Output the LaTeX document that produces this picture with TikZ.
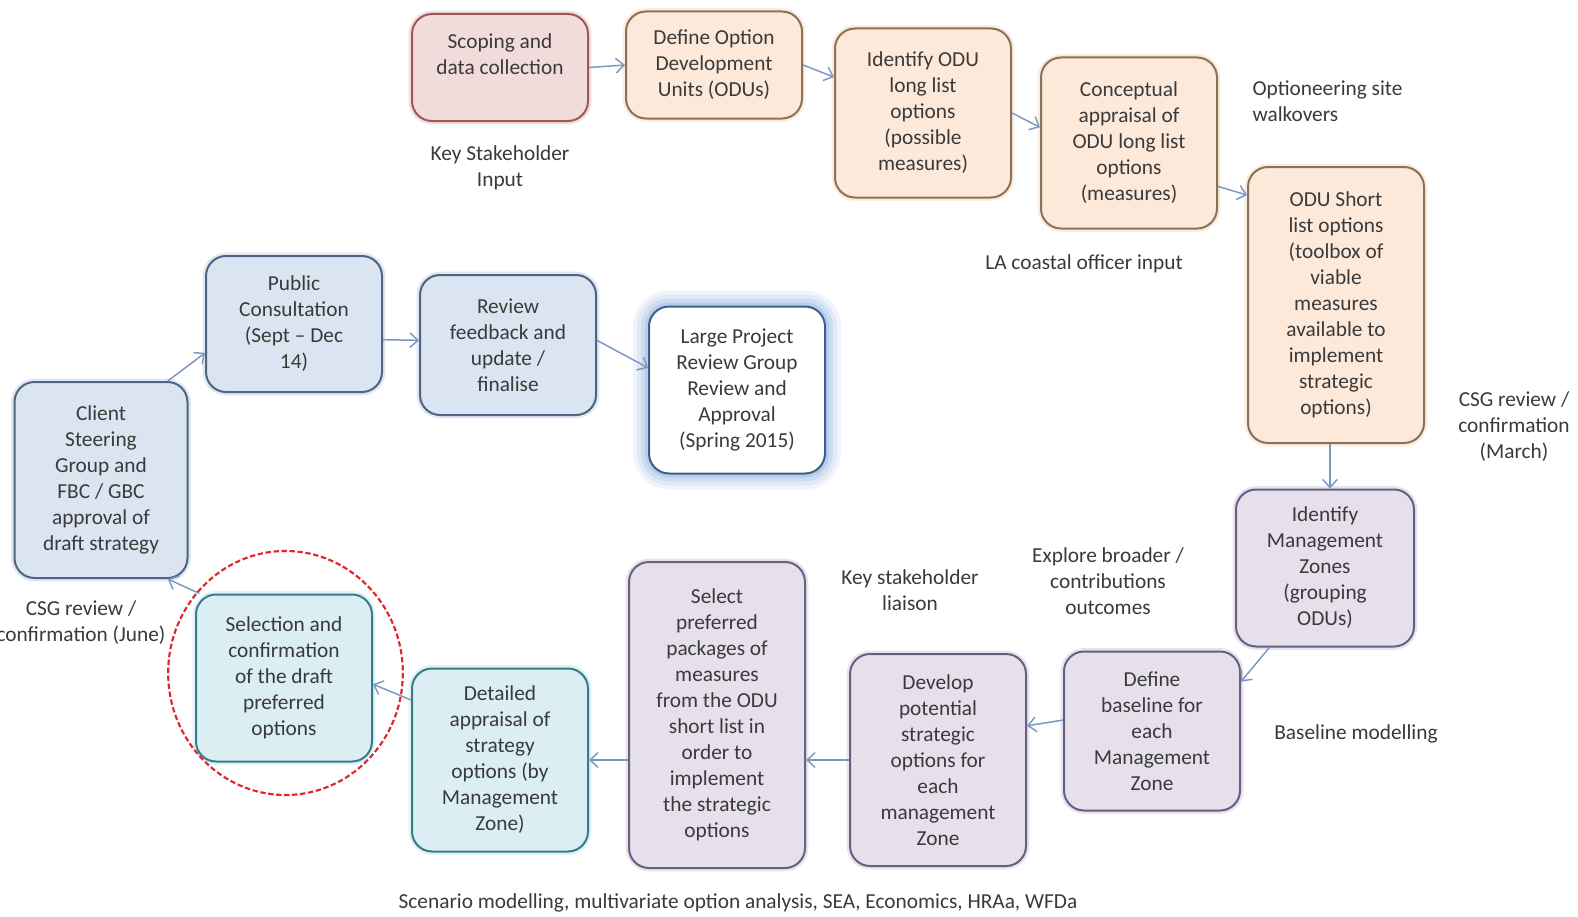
\documentclass[tikz,border=0pt]{standalone}
\usepackage{fontspec}
\setmainfont{Carlito}
\usetikzlibrary{arrows.meta}

\definecolor{pinkfill}{HTML}{F2DCDB}
\definecolor{pinkline}{HTML}{9B5A5A}
\definecolor{pinkglow}{HTML}{E6B9B8}
\definecolor{peachfill}{HTML}{FDE9D9}
\definecolor{peachline}{HTML}{8A7258}
\definecolor{peachglow}{HTML}{FAD7B5}
\definecolor{lilacfill}{HTML}{E5E0EC}
\definecolor{lilacline}{HTML}{67607F}
\definecolor{lilacglow}{HTML}{CCC1DA}
\definecolor{cyanfill}{HTML}{DAEEF3}
\definecolor{cyanline}{HTML}{3D7A87}
\definecolor{cyanglow}{HTML}{B7E4EF}
\definecolor{bluefill}{HTML}{DBE5F1}
\definecolor{blueline}{HTML}{4F6682}
\definecolor{blueglow}{HTML}{B8CCE4}
\definecolor{largeline}{HTML}{3E5F86}
\definecolor{largeglow}{HTML}{8DB3E2}
\definecolor{flowblue}{HTML}{7B98C2}
\definecolor{dashred}{HTML}{E0252B}
\definecolor{textgrey}{HTML}{3A3A3A}

\tikzset{every picture/.style={line width=0.75pt}}
\tikzset{
  stage/.style={rounded corners=15pt, line width=1.5pt, align=center, inner sep=0pt,
    minimum width=132pt, text=textgrey, font=\fontsize{16}{19.5}\selectfont},
  glow/.style={preaction={draw=#1, line width=5pt, opacity=0.45}},
  pinkbox/.style={stage, fill=pinkfill, draw=pinkline, glow=pinkglow},
  peachbox/.style={stage, fill=peachfill, draw=peachline, glow=peachglow},
  lilacbox/.style={stage, fill=lilacfill, draw=lilacline, glow=lilacglow},
  cyanbox/.style={stage, fill=cyanfill, draw=cyanline, glow=cyanglow},
  bluebox/.style={stage, fill=bluefill, draw=blueline, glow=blueglow},
  largebox/.style={stage, fill=white, draw=largeline,
    preaction={draw=largeglow, line width=24pt, opacity=0.12},
    preaction={draw=largeglow, line width=18pt, opacity=0.16},
    preaction={draw=largeglow, line width=12pt, opacity=0.22},
    preaction={draw=largeglow, line width=6pt, opacity=0.35}},
  flow/.style={draw=flowblue, line width=1.1pt, -{Straight Barb[length=6pt,width=11pt]}},
  note/.style={align=center, text=textgrey, inner sep=0pt, font=\fontsize{16}{19.5}\selectfont}
}

\begin{document}
\begin{tikzpicture}[x=0.75pt,y=0.75pt,yscale=-1,xscale=1]
        \path[use as bounding box, fill=white] (0,0) rectangle (1578,917);
        % Boxes, top row
        \node[pinkbox, minimum height=80.25pt] (scoping) at (500,67.5) {Scoping and\\data collection\\~};
        \node[peachbox, minimum height=80.25pt] (define) at (714,65) {Define Option\\Development\\Units (ODUs)};
        \node[peachbox, minimum height=126.75pt] (longlist) at (923,113) {Identify ODU\\long list\\options\\(possible\\measures)};
        \node[peachbox, minimum height=128.25pt] (concept) at (1129,143) {Conceptual\\appraisal of\\ODU long list\\options\\(measures)};
        \node[peachbox, minimum height=207pt] (shortlist) at (1336,305) {ODU Short\\list options\\(toolbox of\\viable\\measures\\available to\\implement\\strategic\\options)};
        % Boxes, bottom row
        \node[lilacbox, minimum height=117.75pt, minimum width=133.5pt] (zones) at (1325,568) {Identify\\Management\\Zones\\(grouping\\ODUs)};
        \node[lilacbox, minimum height=119.25pt] (baseline) at (1152,731) {Define\\baseline for\\each\\Management\\Zone};
        \node[lilacbox, minimum height=159pt] (develop) at (938,760) {Develop\\potential\\strategic\\options for\\each\\management\\Zone};
        \node[lilacbox, minimum height=229.5pt] (select) at (717,715) {Select\\preferred\\packages of\\measures\\from the ODU\\short list in\\order to\\implement\\the strategic\\options};
        \node[cyanbox, minimum height=137.25pt] (detailed) at (500,760) {Detailed\\appraisal of\\strategy\\options (by\\Management\\Zone)};
        \node[cyanbox, minimum height=125.25pt] (selection) at (284,678) {Selection and\\confirmation\\of the draft\\preferred\\options};
        % Boxes, middle row
        \node[bluebox, minimum height=147pt, minimum width=129.75pt] (client) at (101,480) {Client\\Steering\\Group and\\FBC / GBC\\approval of\\draft strategy};
        \node[bluebox, minimum height=102pt] (public) at (294,324) {Public\\Consultation\\(Sept -- Dec\\14)};
        \node[bluebox, minimum height=105pt] (review) at (508,345) {Review\\feedback and\\update /\\finalise};
        \node[largebox, minimum height=125.25pt] (largeproject) at (737,390) {Large Project\\Review Group\\Review and\\Approval\\(Spring 2015)};

        % Text Node
        \node[note] (stakeinput) at (500,168) {Key Stakeholder\\Input};
        % Text Node
        \node[note] (officer) at (1084,264) {LA coastal officer input};
        % Text Node
        \node[note, anchor=west, align=left] (walkover) at (1252,101) {Optioneering site\\walkovers};
        % Text Node
        \node[note] (csgmarch) at (1514,427) {CSG review /\\confirmation\\(March)};
        % Text Node
        \node[note] (csgjune) at (81,623) {CSG review /\\confirmation (June)};
        % Text Node
        \node[note] (liaison) at (910,590) {Key stakeholder\\liaison};
        % Text Node
        \node[note] (explore) at (1108,581) {Explore broader /\\contributions\\outcomes};
        % Text Node
        \node[note] (basemodel) at (1356,734) {Baseline modelling};
        % Text Node
        \node[note] (scenario) at (738,903) {Scenario modelling, multivariate option analysis, SEA, Economics, HRAa, WFDa};

        % Dashed ellipse round the selection box
        \draw[dashred, line width=1.6pt, dash pattern={on 4pt off 2pt}] (285.5,673) ellipse [x radius=88pt, y radius=91.5pt];

        % Connectors
        \draw[flow] (scoping.east) -- (define.west);
        \draw[flow] (define.east) -- (longlist.158);
        \draw[flow] (longlist.east) -- (concept.170);
        \draw[flow] (concept.-26) -- (shortlist.129);
        \draw[flow] ([xshift=-4.5pt]shortlist.south) -- ([xshift=-4.5pt]shortlist.south |- zones.north);
        \draw[flow] (zones.235) -- (baseline.29);
        \draw[flow] (baseline.173) -- (develop.21);
        \draw[flow] (develop.west) -- (develop.west -| select.east);
        \draw[flow] (detailed.east -| select.west) -- (detailed.east);
        \draw[flow] (detailed.146) -- (selection.-4);
        \draw[flow] (selection.135) -- (client.-56);
        \draw[flow] (client.56) -- (public.198);
        \draw[flow] (public.-10) -- (review.177);
        \draw[flow] (review.3) -- (largeproject.166);
\end{tikzpicture}
\end{document}
